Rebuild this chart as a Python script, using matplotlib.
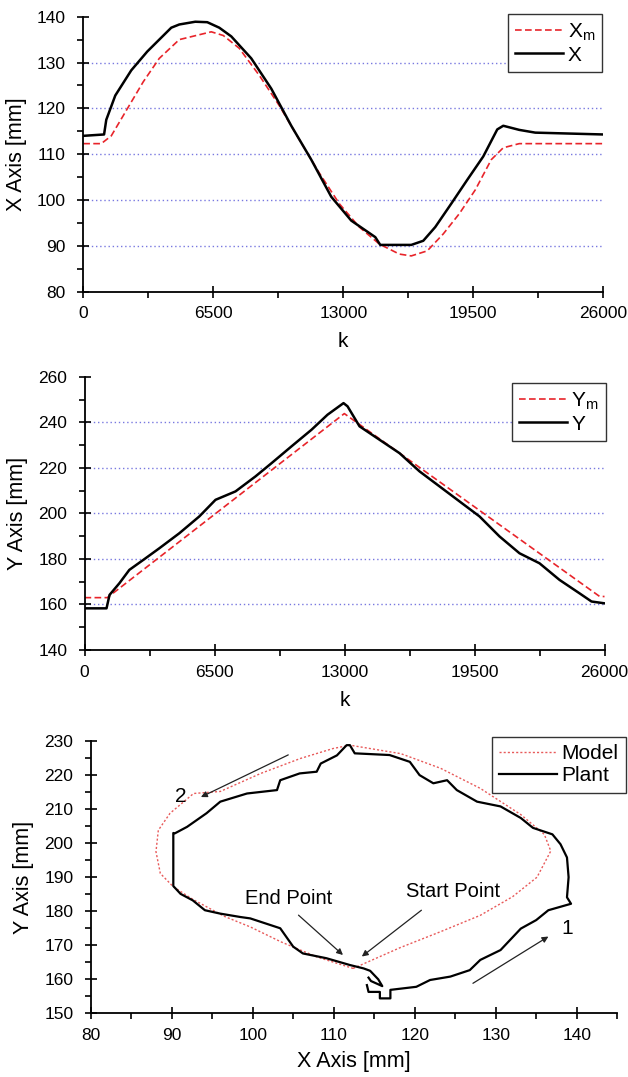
import numpy as np
import matplotlib.pyplot as plt
from matplotlib.ticker import MultipleLocator

plt.rcParams['font.family'] = ['Liberation Sans', 'DejaVu Sans']
plt.rcParams['mathtext.fontset'] = 'custom'
plt.rcParams['mathtext.rm'] = 'Liberation Sans'
plt.rcParams['mathtext.it'] = 'Liberation Sans'

# panel 1: X axis vs k
k_xm = [0, 900, 1400, 2200, 3000, 3800, 4800, 6400, 7000, 7800, 8800, 9800, 10800,
        11800, 12800, 13800, 14800, 15800, 16400, 17200, 18000, 18800, 19600, 20400,
        21000, 21800, 26000]
xm = [112.3, 112.3, 114.0, 119.9, 125.8, 130.9, 135.0, 136.7, 135.9, 133.1, 127.2,
      120.6, 113.2, 105.9, 99.2, 94.1, 90.4, 88.2, 87.8, 88.9, 92.6, 97.0, 102.2,
      108.8, 111.4, 112.3, 112.3]
k_x = [0, 1040, 1150, 1600, 2400, 3200, 4400, 4800, 5600, 6200, 6800, 7400,
       8400, 9400, 10400, 11400, 12400, 13400, 14600, 14850, 16400, 17000, 17600,
       18400, 19200, 20000, 20700, 21000, 21800, 22600, 26000]
x_pl = [114.0, 114.3, 117.5, 122.8, 128.3, 132.4, 137.6, 138.3, 138.9, 138.8,
        137.6, 135.7, 130.9, 124.3, 116.2, 108.8, 100.7, 95.5, 91.9, 90.2, 90.2, 91.1,
        94.1, 99.2, 104.4, 109.5, 115.4, 116.2, 115.3, 114.7, 114.3]

# panel 2: Y axis vs k
k_ym = [0, 1140, 12990, 25760, 26000]
ym = [163.0, 163.0, 243.9, 163.5, 163.5]
k_y = [0, 1100, 1250, 1740, 2240, 2940, 3740, 4740, 5740, 6550, 7550, 8550, 9350,
       10350, 11350, 12150, 12950, 13150, 13750, 14750, 15750, 16750, 17750, 18750,
       19750, 20750, 21750, 22750, 23750, 24750, 25350, 26000]
y_pl = [158.3, 158.3, 164.2, 169.3, 175.2, 179.6, 184.7, 191.3, 198.7, 206.0, 209.7,
        216.3, 222.1, 229.5, 236.8, 243.4, 248.5, 247.1, 238.3, 232.4, 226.5, 218.5,
        211.9, 205.3, 198.7, 189.9, 182.5, 178.1, 170.8, 164.9, 161.3, 160.5]

# panel 3: trajectory (x, y in mm)
model_x = [112.4, 118.2, 123.2, 128.1, 132.1, 135.1, 136.8, 136.0, 133.1, 128.1, 123.2,
           118.3, 112.0, 109.9, 105.9, 101.0, 96.0, 92.7, 89.8, 88.35, 88.06, 88.6,
           90.2, 92.6, 96.5, 99.7, 103.5, 107.9, 112.4]
model_y = [163.2, 169.3, 174.0, 178.8, 184.3, 190.0, 197.7, 202.6, 208.4, 216.1, 222.0,
           226.3, 228.8, 227.8, 224.9, 220.5, 215.2, 214.6, 208.8, 203.8, 197.5, 191.1,
           187.2, 183.5, 178.5, 175.4, 171.0, 166.6, 163.2]
plant_x = [114.1, 114.3, 115.7, 115.7, 117.0, 117.0, 120.2, 121.9, 124.4, 126.8, 128.1,
           130.6, 133.1, 135.0, 136.5, 139.3, 138.8, 139.0, 138.8, 138.0, 137.0, 134.6,
           133.1, 130.6, 127.7, 125.2, 124.0, 122.3, 120.6, 119.4, 116.9, 112.6, 112.0,
           111.6, 110.4, 108.4, 107.9, 105.8, 103.4, 103.0, 99.3, 96.0, 94.3, 91.9,
           90.4, 90.2, 90.2, 91.1, 92.6, 94.1, 96.0, 98.5, 99.7, 103.4, 105.0, 106.2,
           109.1, 112.0, 113.7, 114.5, 115.5, 116.0, 114.6, 114.3]
plant_y = [158.3, 156.3, 156.3, 154.4, 154.4, 156.9, 157.8, 159.8, 160.8, 162.7, 165.7,
           168.6, 174.9, 177.4, 180.3, 182.2, 184.1, 190.0, 195.8, 199.7, 202.6, 204.5,
           207.4, 210.8, 212.2, 215.6, 218.5, 217.6, 220.0, 223.9, 225.9, 226.4, 228.8,
           228.8, 225.8, 223.4, 221.0, 220.5, 218.5, 215.6, 214.6, 212.2, 208.8, 204.8,
           202.9, 203.0, 187.4, 185.1, 183.2, 180.3, 179.3, 178.3, 177.9, 175.0, 169.6,
           167.6, 166.2, 164.2, 163.2, 162.5, 160.0, 158.0, 159.5, 160.5]

fig = plt.figure(figsize=(6.28, 10.77), dpi=100)
ax1 = fig.add_axes([0.1326, 0.7292, 0.8280, 0.2553])
ax2 = fig.add_axes([0.1346, 0.3965, 0.8280, 0.2535])
ax3 = fig.add_axes([0.1444, 0.0591, 0.8384, 0.2528])

grid_col = '#7878e0'


def style(ax):
    for s in ['top', 'right']:
        ax.spines[s].set_visible(False)
    for s in ['left', 'bottom']:
        ax.spines[s].set_linewidth(1.3)
    ax.tick_params(which='major', direction='inout', length=9, width=1.2,
                   labelsize=12.5)
    ax.tick_params(axis='x', which='major', pad=6)
    ax.tick_params(axis='y', which='major', pad=8)
    ax.tick_params(which='minor', direction='out', length=4, width=1.2)


leg_kw = dict(frameon=True, fancybox=False, edgecolor='#333333', framealpha=1,
              handletextpad=0.2, borderpad=0.35, labelspacing=0.15, borderaxespad=0)

# panel 1
for g in [90, 100, 110, 120, 130]:
    ax1.axhline(g, color=grid_col, ls=(0, (1, 2)), lw=1, zorder=0)
ax1.plot(k_xm, xm, color='#e8242a', ls=(0, (4, 2)), lw=1.2, label='X$_\\mathrm{m}$')
ax1.plot(k_x, x_pl, color='black', lw=1.8, label='X')
ax1.set_xlim(0, 26000)
ax1.set_ylim(80, 140)
ax1.xaxis.set_major_locator(MultipleLocator(6500))
ax1.xaxis.set_minor_locator(MultipleLocator(3250))
ax1.yaxis.set_major_locator(MultipleLocator(10))
ax1.yaxis.set_minor_locator(MultipleLocator(5))
ax1.set_xlabel('k', fontsize=15, labelpad=8)
ax1.set_ylabel('X Axis [mm]', fontsize=15.5, labelpad=7)
style(ax1)
ax1.legend(loc='upper right', bbox_to_anchor=(0.998, 1.01), fontsize=15,
           handlelength=2.3, **leg_kw)

# panel 2
for g in [160, 180, 200, 220, 240]:
    ax2.axhline(g, color=grid_col, ls=(0, (1, 2)), lw=1, zorder=0)
ax2.plot(k_ym, ym, color='#e8242a', ls=(0, (4, 2)), lw=1.2, label='Y$_\\mathrm{m}$')
ax2.plot(k_y, y_pl, color='black', lw=1.8, label='Y')
ax2.set_xlim(0, 26000)
ax2.set_ylim(140, 260)
ax2.xaxis.set_major_locator(MultipleLocator(6500))
ax2.xaxis.set_minor_locator(MultipleLocator(3250))
ax2.yaxis.set_major_locator(MultipleLocator(20))
ax2.yaxis.set_minor_locator(MultipleLocator(10))
ax2.set_xlabel('k', fontsize=15, labelpad=8)
ax2.set_ylabel('Y Axis [mm]', fontsize=15.5, labelpad=7)
style(ax2)
ax2.legend(loc='upper right', bbox_to_anchor=(1.003, 0.978), fontsize=15,
           handlelength=2.3, **leg_kw)

# panel 3
ax3.plot(model_x, model_y, color='#e85a5a', ls=(0, (1.5, 1.5)), lw=1.0, label='Model')
ax3.plot(plant_x, plant_y, color='black', lw=1.6, label='Plant')
ax3.set_xlim(80, 145)
ax3.set_ylim(150, 230)
ax3.xaxis.set_minor_locator(MultipleLocator(5))
ax3.set_xticks([80, 90, 100, 110, 120, 130, 140])
ax3.yaxis.set_major_locator(MultipleLocator(10))
ax3.yaxis.set_minor_locator(MultipleLocator(5))
ax3.set_xlabel('X Axis [mm]', fontsize=15.5, labelpad=6)
ax3.set_ylabel('Y Axis [mm]', fontsize=15.5, labelpad=7)
style(ax3)
ax3.legend(loc='upper right', bbox_to_anchor=(1.016, 1.015), fontsize=15,
           handlelength=2.8, **leg_kw)

arr = dict(arrowstyle='-|>', color='#222222', lw=0.9, mutation_scale=9)
ax3.annotate('', xy=(111.4, 166.6), xytext=(105.4, 179.4), arrowprops=arr)
ax3.annotate('', xy=(113.2, 166.2), xytext=(121.1, 180.8), arrowprops=arr)
ax3.annotate('', xy=(136.8, 173.0), xytext=(126.9, 158.4), arrowprops=arr)
ax3.annotate('', xy=(93.3, 213.2), xytext=(104.7, 226.3), arrowprops=arr)
ax3.text(104.4, 183.7, 'End Point', fontsize=14.5, ha='center', va='center')
ax3.text(124.7, 185.8, 'Start Point', fontsize=14.5, ha='center', va='center')
ax3.text(138.8, 174.9, '1', fontsize=15, ha='center', va='center')
ax3.text(91.1, 213.7, '2', fontsize=15, ha='center', va='center')

plt.savefig('out.png', dpi=100)
